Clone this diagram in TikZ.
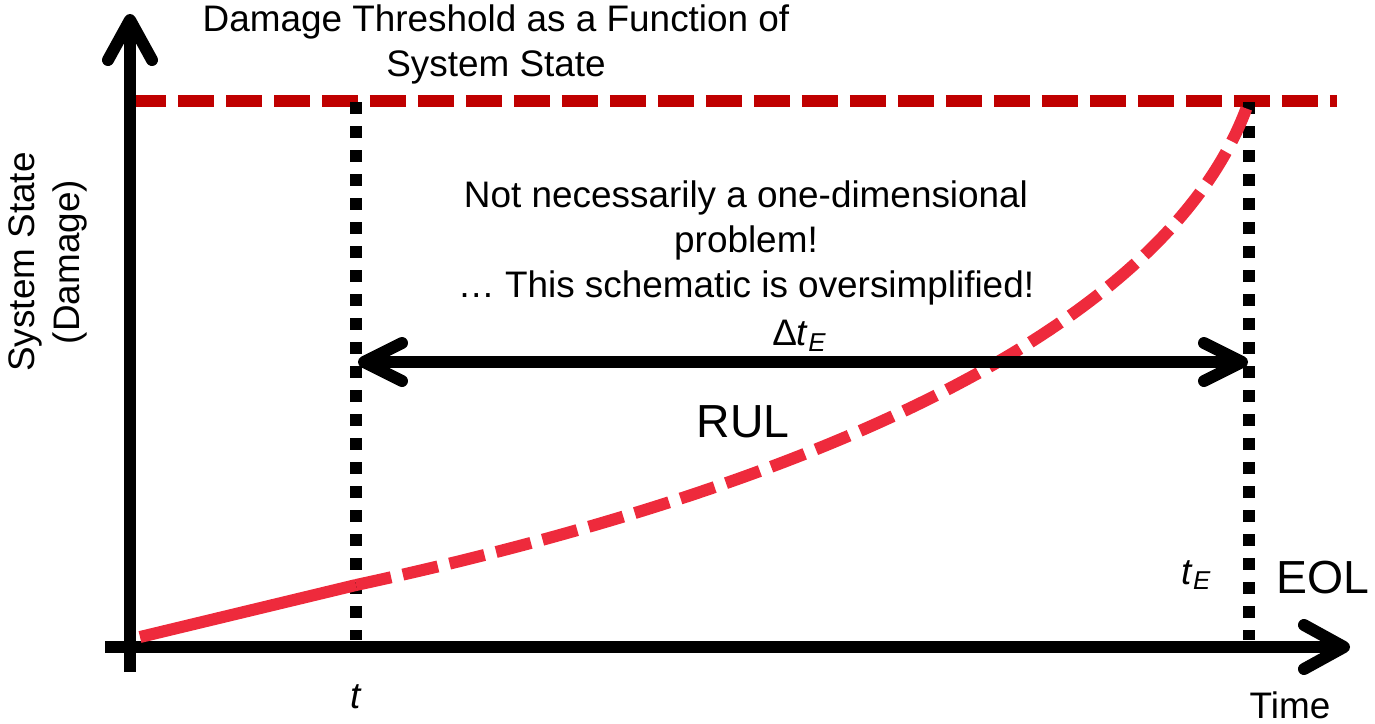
\documentclass[tikz,border=0pt]{standalone}
\usepackage{fontspec}
\setmainfont{Liberation Sans}
\usepackage{xcolor}
\definecolor{seuil}{HTML}{C00000}
\definecolor{rougevif}{HTML}{EE2A3C}
\usetikzlibrary{arrows.meta}

\tikzset{
  axe/.style={line width=1.2mm,-{Straight Barb[length=4mm,width=4.4mm,round]}},
  fleche/.style={line width=1.2mm,{Straight Barb[length=3.8mm,width=3.8mm,round]}-{Straight Barb[length=3.8mm,width=3.8mm,round]}},
  pointille/.style={line width=1.2mm,dash pattern=on 1.2mm off 1.2mm},
  tirets/.style={line width=1.2mm,dash pattern=on 3.6mm off 1.2mm},
  grand/.style={font=\fontsize{13.2}{16}\selectfont}
}

\begin{document}
\begin{tikzpicture}[x=0.1mm,y=-0.1mm,font=\fontsize{10.5}{12.8}\selectfont]
\useasboundingbox (0,0) rectangle (1375,723);
% points de repere
\coordinate (ybas) at (130,672);
\coordinate (yhaut) at (130,14);
\coordinate (xgauche) at (105,647);
\coordinate (xdroite) at (1350,647);
\coordinate (thaut) at (356,102);
\coordinate (tbas) at (356,640);
\coordinate (tEhaut) at (1249,102);
\coordinate (tEbas) at (1249,640);
\coordinate (sgauche) at (130,101);
\coordinate (sdroite) at (1337,101);
\coordinate (depart) at (140,637);
\coordinate (present) at (356,585);
\coordinate (fin) at (1248,104);
\coordinate (rulg) at (358,362);
\coordinate (ruld) at (1248,362);
% seuil de dommage
\draw[seuil,tirets] (sgauche) -- (sdroite);
% instants t et t_E
\draw[pointille] (thaut) -- (tbas);
\draw[pointille] (tEhaut) -- (tEbas);
% axes
\draw[axe] (ybas) -- (yhaut);
\draw[axe] (xgauche) -- (xdroite);
% trajectoire du dommage
\draw[rougevif,line width=1.2mm] (depart) -- (present);
\draw[rougevif,tirets] (present) .. controls (750,500) and (1160,350) .. (fin);
% duree de vie restante
\draw[fleche] (rulg) -- (ruld);
% textes
\node (titre) [align=center] at (496,44) {Damage Threshold as a Function of\\System State};
\node (remarque) [align=center] at (746,243)
  {Not necessarily a one-dimensional\\problem!\\… This schematic is oversimplified!};
\node (delta) at (800,336) {Δ\textit{t}\textsubscript{\textit{E}}};
\node (rul) [grand] at (743,422) {RUL};
\node (eol) [grand] at (1323,578) {EOL};
\node (t) at (356,697) {\textit{t}};
\node (tE) at (1197,575) {\textit{t}\textsubscript{\textit{E}}};
\node (temps) at (1290,705) {Time};
\node (etat) [rotate=90,align=center] at (48,262) {System State\\(Damage)};
\end{tikzpicture}
\end{document}
